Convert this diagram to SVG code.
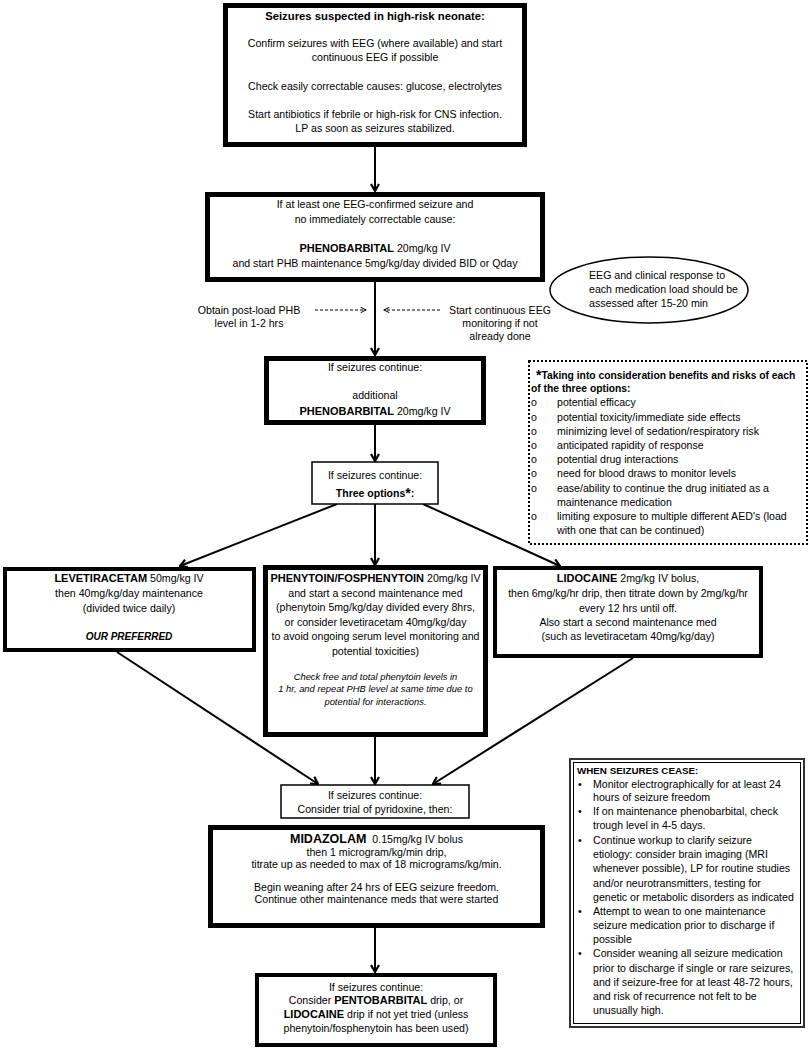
<svg xmlns="http://www.w3.org/2000/svg" width="809" height="1050" viewBox="0 0 809 1050">
<defs>
<style>
text{font-family:"Liberation Sans",Arial,sans-serif;font-size:10.6px;fill:#000}
.c{text-anchor:middle}
.b{font-weight:bold;font-size:11px}
.bi{font-weight:bold;font-style:italic;font-size:10px}
.i{font-style:italic;font-size:9.4px}
.box{fill:#fff;stroke:#000;stroke-width:5}
.box4{fill:#fff;stroke:#000;stroke-width:4}
.thin{fill:#fff;stroke:#000;stroke-width:1.5}
.arr{stroke:#000;stroke-width:2;fill:none;marker-end:url(#ah)}
.dash{stroke:#000;stroke-width:1;stroke-dasharray:3,2;fill:none;marker-end:url(#ahs)}
</style>
<marker id="ah" viewBox="0 0 10 10" refX="9" refY="5" markerWidth="10" markerHeight="10" markerUnits="userSpaceOnUse" orient="auto">
<path d="M2,1 L9,5 L2,9" fill="none" stroke="#000" stroke-width="2.2"/>
</marker>
<marker id="ahs" viewBox="0 0 8 8" refX="7" refY="4" markerWidth="7" markerHeight="7" markerUnits="userSpaceOnUse" orient="auto">
<path d="M1,1 L7,4 L1,7" fill="none" stroke="#000" stroke-width="1.2"/>
</marker>
</defs>
<rect width="809" height="1050" fill="#fff"/>

<g id="connectors">
<line class="arr" x1="375" y1="147" x2="375" y2="191"/>
<line class="arr" x1="375" y1="282" x2="375" y2="355"/>
<line class="dash" x1="315" y1="310" x2="366" y2="310"/>
<line class="dash" x1="440" y1="310" x2="384" y2="310"/>
<line class="arr" x1="375" y1="425" x2="375" y2="461"/>
<line class="arr" x1="337" y1="504" x2="180" y2="566"/>
<line class="arr" x1="375" y1="504" x2="375" y2="565"/>
<line class="arr" x1="423" y1="504" x2="560" y2="566"/>
<line class="arr" x1="117" y1="652" x2="318" y2="784"/>
<line class="arr" x1="375" y1="737" x2="375" y2="784"/>
<line class="arr" x1="633" y1="658" x2="433" y2="784"/>
<line class="arr" x1="375" y1="928" x2="375" y2="972"/>
</g>

<g id="start">
<rect class="box" x="225.5" y="5.5" width="299" height="139"/>
<text class="c" x="375" y="20" style="font-weight:bold;font-size:11.3px">Seizures suspected in high-risk neonate:</text>
<text class="c" x="375" y="47">Confirm seizures with EEG (where available) and start</text>
<text class="c" x="375" y="61">continuous EEG if possible</text>
<text class="c" x="375" y="90">Check easily correctable causes: glucose, electrolytes</text>
<text class="c" x="375" y="118">Start antibiotics if febrile or high-risk for CNS infection.</text>
<text class="c" x="375" y="132">LP as soon as seizures stabilized.</text>
</g>

<g id="phenobarbital1">
<rect class="box" x="207.5" y="194.5" width="335" height="85"/>
<text class="c" x="375" y="208">If at least one EEG-confirmed seizure and</text>
<text class="c" x="375" y="223">no immediately correctable cause:</text>
<text class="c" x="375" y="252"><tspan class="b">PHENOBARBITAL</tspan> 20mg/kg IV</text>
<text class="c" x="375" y="267">and start PHB maintenance 5mg/kg/day divided BID or Qday</text>
</g>

<g id="note-phb-level">
<text class="c" x="249" y="314">Obtain post-load PHB</text>
<text class="c" x="249" y="327">level in 1-2 hrs</text>
</g>

<g id="note-ceeg">
<text class="c" x="500" y="314">Start continuous EEG</text>
<text class="c" x="500" y="327">monitoring if not</text>
<text class="c" x="500" y="340">already done</text>
</g>

<g id="note-response">
<ellipse cx="649" cy="290" rx="99" ry="33" fill="#fff" stroke="#000" stroke-width="1.5"/>
<text x="589" y="279">EEG and clinical response to</text>
<text x="589" y="293">each medication load should be</text>
<text x="589" y="307">assessed after 15-20 min</text>
</g>

<g id="phenobarbital2">
<rect class="box" x="266.5" y="358.5" width="217" height="64"/>
<text class="c" x="375" y="371">If seizures continue:</text>
<text class="c" x="375" y="399">additional</text>
<text class="c" x="375" y="415"><tspan class="b">PHENOBARBITAL</tspan> 20mg/kg IV</text>
</g>

<g id="three-options">
<rect class="thin" x="312" y="462" width="126" height="42"/>
<text class="c" x="375" y="479">If seizures continue:</text>
<text class="c" x="375" y="497" style="font-weight:bold;font-size:10.5px">Three options<tspan style="font-size:14px" dy="1">*</tspan><tspan dy="-1">:</tspan></text>
</g>

<g id="considerations">
<rect x="529" y="361" width="278" height="183" fill="#fff" stroke="#000" stroke-width="2" stroke-dasharray="2,2"/>
<text x="536" y="379" style="font-weight:bold;font-size:10.3px"><tspan style="font-size:14px" dy="1">*</tspan><tspan dy="-1">Taking into consideration benefits and risks of each</tspan></text>
<text x="531" y="392" style="font-weight:bold;font-size:10.3px">of the three options:</text>
<g style="font-size:9px">
<text x="531" y="405.5">o</text>
<text x="531" y="420.5">o</text>
<text x="531" y="434.5">o</text>
<text x="531" y="448.5">o</text>
<text x="531" y="462.5">o</text>
<text x="531" y="476.5">o</text>
<text x="531" y="491.5">o</text>
<text x="531" y="519.5">o</text>
</g>
<text x="557" y="406">potential efficacy</text>
<text x="557" y="421">potential toxicity/immediate side effects</text>
<text x="557" y="435">minimizing level of sedation/respiratory risk</text>
<text x="557" y="449">anticipated rapidity of response</text>
<text x="557" y="463">potential drug interactions</text>
<text x="557" y="477">need for blood draws to monitor levels</text>
<text x="557" y="492">ease/ability to continue the drug initiated as a</text>
<text x="557" y="506">maintenance medication</text>
<text x="557" y="520">limiting exposure to multiple different AED's (load</text>
<text x="557" y="534">with one that can be continued)</text>
</g>

<g id="levetiracetam">
<rect class="box4" x="5" y="569" width="249" height="81"/>
<text class="c" x="129" y="582"><tspan class="b">LEVETIRACETAM</tspan> 50mg/kg IV</text>
<text class="c" x="129" y="597">then 40mg/kg/day maintenance</text>
<text class="c" x="129" y="612">(divided twice daily)</text>
<text class="c bi" x="129" y="640">OUR PREFERRED</text>
</g>

<g id="phenytoin">
<rect class="box" x="265.5" y="567.5" width="220" height="167"/>
<text class="c" x="375.5" y="582"><tspan class="b">PHENYTOIN/FOSPHENYTOIN</tspan> 20mg/kg IV</text>
<text class="c" x="375.5" y="597">and start a second maintenance med</text>
<text class="c" x="375.5" y="611">(phenytoin 5mg/kg/day divided every 8hrs,</text>
<text class="c" x="375.5" y="626">or consider levetiracetam 40mg/kg/day</text>
<text class="c" x="375.5" y="640">to avoid ongoing serum level monitoring and</text>
<text class="c" x="375.5" y="655">potential toxicities)</text>
<text class="c i" x="375.5" y="680">Check free and total phenytoin levels in</text>
<text class="c i" x="375.5" y="692">1 hr, and repeat PHB level at same time due to</text>
<text class="c i" x="375.5" y="705">potential for interactions.</text>
</g>

<g id="lidocaine">
<rect class="box4" x="495" y="568" width="266" height="88"/>
<text class="c" x="628" y="582"><tspan class="b">LIDOCAINE</tspan> 2mg/kg IV bolus,</text>
<text class="c" x="628" y="597">then 6mg/kg/hr drip, then titrate down by 2mg/kg/hr</text>
<text class="c" x="628" y="612">every 12 hrs until off.</text>
<text class="c" x="628" y="626">Also start a second maintenance med</text>
<text class="c" x="628" y="640">(such as levetiracetam 40mg/kg/day)</text>
</g>

<g id="pyridoxine">
<rect class="thin" x="281" y="785" width="188" height="33"/>
<text class="c" x="375" y="799">If seizures continue:</text>
<text class="c" x="375" y="813">Consider trial of pyridoxine, then:</text>
</g>

<g id="midazolam">
<rect class="box" x="210.5" y="827.5" width="332" height="98"/>
<text class="c" x="376.5" y="843"><tspan style="font-weight:bold;font-size:12.5px">MIDAZOLAM</tspan><tspan dx="3"> 0.15mg/kg IV bolus</tspan></text>
<text class="c" x="376.5" y="856">then 1 microgram/kg/min drip,</text>
<text class="c" x="376.5" y="868">titrate up as needed to max of 18 micrograms/kg/min.</text>
<text class="c" x="376.5" y="891">Begin weaning after 24 hrs of EEG seizure freedom.</text>
<text class="c" x="376.5" y="903">Continue other maintenance meds that were started</text>
</g>

<g id="pentobarbital">
<rect class="box4" x="257" y="975" width="238" height="70"/>
<text class="c" x="376" y="991">If seizures continue:</text>
<text class="c" x="376" y="1004">Consider <tspan class="b">PENTOBARBITAL</tspan> drip, or</text>
<text class="c" x="376" y="1018"><tspan class="b">LIDOCAINE</tspan> drip if not yet tried (unless</text>
<text class="c" x="376" y="1032">phenytoin/fosphenytoin has been used)</text>
</g>

<g id="when-seizures-cease">
<rect x="570" y="759" width="234" height="268" fill="#fff" stroke="#333" stroke-width="2"/>
<rect x="573.5" y="762.5" width="227" height="261" fill="none" stroke="#000" stroke-width="1"/>
<text x="577" y="774" style="font-weight:bold;font-size:9.8px">WHEN SEIZURES CEASE:</text>
<text x="578" y="788">•</text>
<text x="578" y="815">•</text>
<text x="578" y="844">•</text>
<text x="578" y="915">•</text>
<text x="578" y="957">•</text>
<text x="593" y="788">Monitor electrographically for at least 24</text>
<text x="593" y="801">hours of seizure freedom</text>
<text x="593" y="815">If on maintenance phenobarbital, check</text>
<text x="593" y="829">trough level in 4-5 days.</text>
<text x="593" y="844">Continue workup to clarify seizure</text>
<text x="593" y="858">etiology: consider brain imaging (MRI</text>
<text x="593" y="872">whenever possible), LP for routine studies</text>
<text x="593" y="887">and/or neurotransmitters, testing for</text>
<text x="593" y="901">genetic or metabolic disorders as indicated</text>
<text x="593" y="915">Attempt to wean to one maintenance</text>
<text x="593" y="929">seizure medication prior to discharge if</text>
<text x="593" y="943">possible</text>
<text x="593" y="957">Consider weaning all seizure medication</text>
<text x="593" y="972">prior to discharge if single or rare seizures,</text>
<text x="593" y="986">and if seizure-free for at least 48-72 hours,</text>
<text x="593" y="1000">and risk of recurrence not felt to be</text>
<text x="593" y="1014">unusually high.</text>
</g>
</svg>
